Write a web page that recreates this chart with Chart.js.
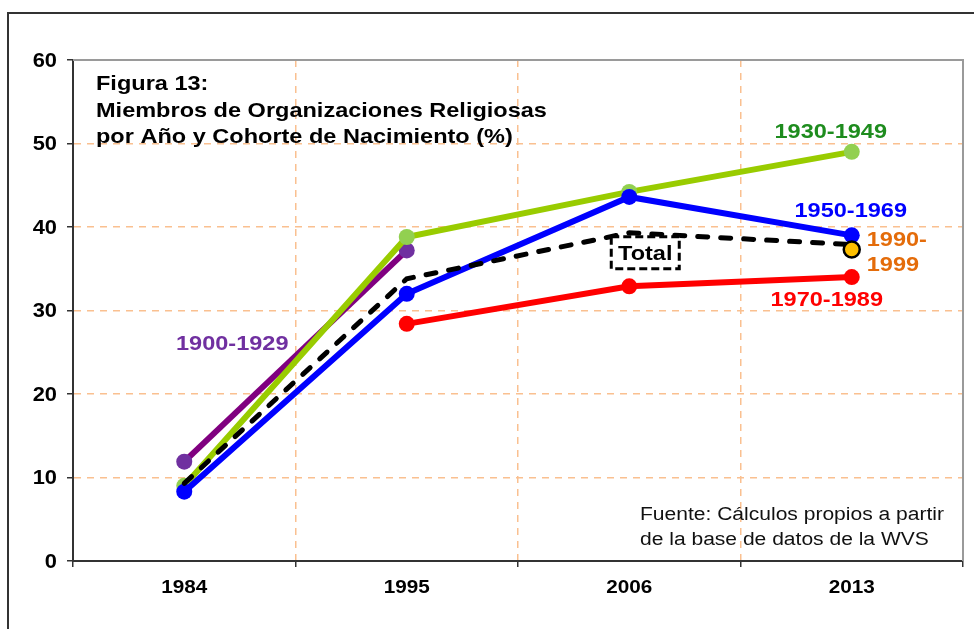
<!DOCTYPE html>
<html>
<head>
<meta charset="utf-8">
<script src="https://cdn.jsdelivr.net/npm/chart.js@4/dist/chart.umd.min.js"></script>
<style>
  html, body { margin: 0; padding: 0; background: #fff; }
  canvas { display: block; }
</style>
</head>
<body>
<canvas id="figChart" width="974" height="629"></canvas>
<script>
// === Data ===
const years = ["1984", "1995", "2006", "2013"];
const cohort1900 = [11.9, 37.2, null, null];
const cohort1930 = [9.0, 38.8, 44.2, 49.0];
const cohort1950 = [8.3, 32.0, 43.6, 39.0];
const cohort1970 = [null, 28.4, 32.9, 34.0];
const cohort1990 = [null, null, null, 37.3];
const total = [9.3, 33.8, 39.3, 37.9];
const yTicks = [0, 10, 20, 30, 40, 50, 60];

const titleLines = [
  "Figura 13:",
  "Miembros de Organizaciones Religiosas",
  "por Año y Cohorte de Nacimiento (%)",
];
const sourceLines = [
  "Fuente: Cálculos propios a partir",
  "de la base de datos de la WVS",
];

// label text, colour, dataset index and category index it sits next to
const seriesLabels = [
  { lines: ["1900-1929"], color: "#7030A0", ds: 0, at: 0, dx: 48, dy: -119, align: "center" },
  { lines: ["1930-1949"], color: "#1E8C1E", ds: 1, at: 3, dx: -21, dy: -21, align: "center" },
  { lines: ["1950-1969"], color: "#0000FF", ds: 2, at: 3, dx: -1, dy: -26, align: "center" },
  { lines: ["1970-1989"], color: "#FF0000", ds: 3, at: 3, dx: -25, dy: 22, align: "center" },
  { lines: ["1990-", "1999"], color: "#E46C0A", ds: 4, at: 3, dx: 15, dy: -11, align: "left" },
];

const FONT = "'Liberation Sans', Arial, sans-serif";
const STRETCH = 1.12; // the original text is a little wider than Arial

// draw text horizontally stretched around its anchor
function wideText(ctx, text, x, y, align) {
  ctx.save();
  ctx.translate(x, y + 1.5);
  ctx.scale(STRETCH, 1);
  ctx.textAlign = align;
  ctx.textBaseline = "middle";
  ctx.fillText(text, 0, 0);
  ctx.restore();
}

// === Frame, plot border, titles and labels ===
const decorations = {
  id: "decorations",
  beforeDraw(chart) {
    const ctx = chart.ctx;
    ctx.save();
    ctx.strokeStyle = "#333";
    ctx.lineWidth = 2;
    ctx.beginPath();
    ctx.moveTo(8, 640);
    ctx.lineTo(8, 13);
    ctx.lineTo(980, 13);
    ctx.stroke();
    ctx.restore();
  },
  beforeDatasetsDraw(chart) {
    const { ctx, chartArea: a } = chart;
    ctx.save();
    ctx.strokeStyle = "#9a9a9a";
    ctx.lineWidth = 2;
    ctx.beginPath();
    ctx.moveTo(a.left, a.top);
    ctx.lineTo(a.right, a.top);
    ctx.lineTo(a.right, a.bottom);
    ctx.stroke();
    ctx.restore();
  },
  afterDatasetsDraw(chart) {
    const { ctx, chartArea: a, scales } = chart;
    ctx.save();

    // tick labels
    ctx.fillStyle = "#000";
    ctx.font = "bold 19.5px " + FONT;
    yTicks.forEach((v) => wideText(ctx, String(v), a.left - 16, scales.y.getPixelForValue(v), "right"));
    ctx.font = "bold 18.5px " + FONT;
    years.forEach((y, i) => wideText(ctx, y, scales.x.getPixelForTick(i), a.bottom + 25, "center"));

    // title block
    ctx.font = "bold 21px " + FONT;
    titleLines.forEach((t, i) => wideText(ctx, t, a.left + 23, a.top + 23 + i * 26.5, "left"));

    // source note
    ctx.fillStyle = "#111";
    ctx.font = "18.8px " + FONT;
    sourceLines.forEach((t, i) => wideText(ctx, t, 640, 513 + i * 25.5, "left"));

    // series labels
    ctx.font = "bold 21px " + FONT;
    seriesLabels.forEach((l) => {
      const pt = chart.getDatasetMeta(l.ds).data[l.at];
      ctx.fillStyle = l.color;
      l.lines.forEach((t, i) => wideText(ctx, t, pt.x + l.dx, pt.y + l.dy + i * 25, l.align));
    });

    // "Total" boxed label beside the 2006 point of the total line
    const tp = chart.getDatasetMeta(5).data[2];
    const cx = tp.x + 16, cy = tp.y + 20;
    ctx.fillStyle = "#fff";
    ctx.fillRect(cx - 34, cy - 16, 68, 32);
    ctx.setLineDash([8, 4]);
    ctx.lineWidth = 3;
    ctx.strokeStyle = "#000";
    ctx.strokeRect(cx - 34, cy - 16, 68, 32);
    ctx.setLineDash([]);
    ctx.fillStyle = "#000";
    ctx.font = "bold 21px " + FONT;
    wideText(ctx, "Total", cx, cy, "center");
    ctx.restore();
  },
};

function lineSet(label, data, line, marker, order) {
  return {
    label,
    data,
    borderColor: line,
    backgroundColor: marker,
    pointBackgroundColor: marker,
    pointBorderColor: marker,
    borderWidth: 6,
    pointRadius: 8,
    pointBorderWidth: 0,
    tension: 0,
    order,
  };
}

const ctx = document.getElementById("figChart").getContext("2d");
new Chart(ctx, {
  type: "line",
  data: {
    labels: years,
    datasets: [
      lineSet("1900-1929", cohort1900, "#800080", "#7030A0", 5),
      lineSet("1930-1949", cohort1930, "#99CC00", "#92D050", 4),
      lineSet("1950-1969", cohort1950, "#0000FF", "#0000FF", 3),
      lineSet("1970-1989", cohort1970, "#FF0000", "#FF0000", 2),
      {
        label: "1990-1999",
        data: cohort1990,
        borderColor: "#000",
        pointBackgroundColor: "#FFC000",
        pointBorderColor: "#000",
        pointBorderWidth: 2.5,
        pointRadius: 8,
        order: 0,
      },
      {
        label: "Total",
        data: total,
        borderColor: "#000",
        borderWidth: 5,
        borderDash: [10, 13],
        borderCapStyle: "round",
        pointRadius: 0,
        tension: 0,
        order: 1,
      },
    ],
  },
  options: {
    responsive: false,
    animation: false,
    layout: { padding: { top: 60, right: 11, left: 0, bottom: 0 } },
    plugins: { legend: { display: false }, tooltip: { enabled: false } },
    scales: {
      x: {
        offset: true,
        grid: {
          offset: true,
          color: "#FAC090",
          lineWidth: 1.5,
          tickLength: 6,
          tickColor: "#333",
          tickWidth: 1.5,
        },
        border: { color: "#333", width: 2, dash: [7, 6] },
        ticks: { display: false },
        afterFit: (s) => { s.height = 68; },
      },
      y: {
        min: 0,
        max: 60,
        afterBuildTicks: (s) => { s.ticks = yTicks.map((v) => ({ value: v })); },
        grid: {
          color: "#FAC090",
          lineWidth: 1.5,
          tickLength: 6,
          tickColor: "#333",
          tickWidth: 1.5,
        },
        border: { color: "#333", width: 2, dash: [7, 6] },
        ticks: { display: false },
        afterFit: (s) => { s.width = 73; },
      },
    },
  },
  plugins: [decorations],
});
</script>
</body>
</html>
